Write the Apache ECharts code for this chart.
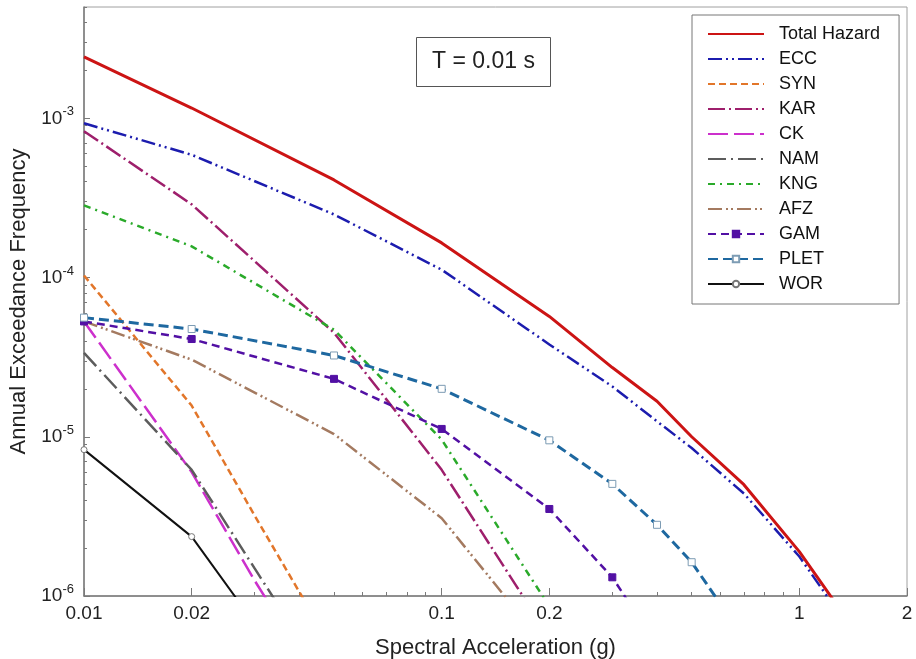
<!DOCTYPE html>
<html><head><meta charset="utf-8">
<script src="https://cdn.jsdelivr.net/npm/echarts@6/dist/echarts.min.js"></script>
<style>html,body{margin:0;padding:0;background:#fff}#c{width:916px;height:659px}</style>
</head><body><div id="c"></div>
<script>
// Spectral acceleration grid (g)
const accel = [0.01, 0.02, 0.03, 0.05, 0.1, 0.2, 0.3, 0.4, 0.5, 0.6, 0.7, 1.0, 1.5];
// Annual exceedance frequency per source (null = no point at that acceleration)
const totalHazard = [2.43e-3, 1.16e-3, null, 4.1e-4, 1.65e-4, 5.7e-5, 2.72e-5, 1.67e-5, 1.0e-5, null, 5.0e-6, 1.9e-6, 5.2e-7];
const ecc  = [9.3e-4, 5.9e-4, null, 2.49e-4, 1.12e-4, 3.8e-5, 2.07e-5, 1.25e-5, 8.5e-6, null, 4.4e-6, 1.77e-6, 4.8e-7];
const syn  = [1.03e-4, 1.57e-5, 3.2e-6, 4.5e-7];
const kar  = [8.3e-4, 2.88e-4, null, 4.5e-5, 6.2e-6, 5.5e-7];
const ck   = [5.3e-5, 6.0e-6, 1.25e-6, 2.0e-7];
const nam  = [3.36e-5, 6.2e-6, 1.49e-6, 2.5e-7];
const kng  = [2.84e-4, 1.57e-4, null, 4.7e-5, 9.6e-6, 8.6e-7];
const afz  = [5.3e-5, 3.05e-5, null, 1.04e-5, 3.08e-6, 4.5e-7];
const gam  = [5.3e-5, 4.11e-5, null, 2.31e-5, 1.12e-5, 3.52e-6, 1.31e-6, 4.9e-7];
const plet = [5.6e-5, 4.75e-5, null, 3.24e-5, 2.0e-5, 9.5e-6, 5.06e-6, 2.8e-6, 1.63e-6, 9.0e-7];
const wor  = [8.3e-6, 2.36e-6, 6.7e-7];

const seriesNames = ['Total Hazard','ECC','SYN','KAR','CK','NAM','KNG','AFZ','GAM','PLET','WOR'];
const seriesValues = [totalHazard, ecc, syn, kar, ck, nam, kng, afz, gam, plet, wor];

// Axis ticks and labels
const xLabelValues = [0.01, 0.02, 0.1, 0.2, 1, 2];
const xMinorTicks = [0.01,0.02,0.03,0.04,0.05,0.06,0.07,0.08,0.09,0.1,0.2,0.3,0.4,0.5,0.6,0.7,0.8,0.9,1,2];
const yLabelValues = [1e-6, 1e-5, 1e-4, 1e-3];
const yLabelExponents = ['-6', '-5', '-4', '-3'];
const yMinorTicks = [1e-6,2e-6,3e-6,4e-6,5e-6,6e-6,7e-6,8e-6,9e-6,1e-5,2e-5,3e-5,4e-5,5e-5,6e-5,7e-5,8e-5,9e-5,1e-4,2e-4,3e-4,4e-4,5e-4,6e-4,7e-4,8e-4,9e-4,1e-3,2e-3,3e-3,4e-3,5e-3];

const styles = [
  {color:'#cc1414', width:3, dash:'solid'},
  {color:'#1c1cae', width:2.5, dash:[14,4,2,4,2,4]},
  {color:'#e2762a', width:2.5, dash:[7,4]},
  {color:'#9e1f6c', width:2.5, dash:[17,4,2,4]},
  {color:'#cc30cc', width:2.5, dash:[20,6]},
  {color:'#5c5c5c', width:2.5, dash:[18,5,2,5]},
  {color:'#2aaa2a', width:2.5, dash:[7,5,2,5]},
  {color:'#a47a60', width:2.5, dash:[14,4,2,3,2,4]},
  {color:'#5210a4', width:2.5, dash:[8,5], symbol:'rect', size:7, fill:'#5210a4', border:'#5210a4'},
  {color:'#1e68a0', width:3, dash:[10,5], symbol:'rect', size:7, fill:'#ffffff', border:'#7d9cb4'},
  {color:'#111111', width:2, dash:'solid', symbol:'circle', size:6, fill:'#ffffff', border:'#777777'}
];

const FONT = 'Liberation Sans, Arial, sans-serif';

const series = seriesNames.map((name, i) => {
  const st = styles[i];
  const data = accel.map((x, k) => [x, seriesValues[i][k]]).filter(p => p[1] != null);
  return {
    name, type:'line', data, clip:true, z: i === 0 ? 10 : 9,
    showSymbol: !!st.symbol, symbol: st.symbol || 'none', symbolSize: st.size || 0,
    itemStyle: {color: st.fill || st.color, borderColor: st.border || st.color, borderWidth: 1},
    lineStyle: {color: st.color, width: st.width, type: st.dash},
    emphasis: {disabled:true}, animation:false
  };
});

const legendData = seriesNames.map((name, i) => (
  styles[i].symbol ? {name} : {name, itemStyle:{opacity:0}}
));

const chart = echarts.init(document.getElementById('c'), null, {renderer:'canvas'});
chart.setOption({
  backgroundColor:'#ffffff',
  animation:false,
  title: {
    text:'T = 0.01 s', left:416, top:37,
    padding:[13,16,14,16], borderColor:'#555', borderWidth:1,
    textStyle:{fontFamily:FONT, fontSize:23, fontWeight:'normal', color:'#222'}
  },
  legend: {
    data: legendData, orient:'vertical', left:692, top:15,
    itemWidth:56, itemHeight:8, itemGap:7,
    padding:[10,19,11,15], borderColor:'#777', borderWidth:1, backgroundColor:'#fff',
    textStyle:{fontFamily:FONT, fontSize:18, color:'#111', padding:[0,0,0,10]},
    selectedMode:false
  },
  grid: {left:84, right:9, top:7, bottom:63, outerBoundsMode:'none', containLabel:false,
    show:true, borderColor:'#a0a0a0', borderWidth:1, backgroundColor:'#fff'},
  xAxis: [{
    type:'log', min:0.01, max:2, logBase:10,
    name:'Spectral Acceleration (g)', nameLocation:'middle', nameGap:41,
    nameTextStyle:{fontFamily:FONT, fontSize:22, color:'#222'},
    axisLine:{show:true, lineStyle:{color:'#7a7a7a', width:1.5}},
    axisTick:{show:true, inside:true, length:4, customValues:xMinorTicks, lineStyle:{color:'#7a7a7a'}},
    axisLabel:{customValues:xLabelValues, fontFamily:FONT, fontSize:19, color:'#222', margin:8,
      formatter: v => String(xLabelValues.find(t => Math.abs(t - v) / t < 1e-6) ?? v)},
    splitLine:{show:false}, minorTick:{show:false}
  },{
    type:'log', min:0.01, max:2, logBase:10, position:'bottom',
    axisLine:{show:false},
    axisTick:{show:true, inside:true, length:8, customValues:xLabelValues, lineStyle:{color:'#7a7a7a'}},
    axisLabel:{show:false}, splitLine:{show:false}
  }],
  yAxis: [{
    type:'log', min:1e-6, max:5e-3, logBase:10,
    name:'Annual Exceedance Frequency', nameLocation:'middle', nameGap:51,
    nameTextStyle:{fontFamily:FONT, fontSize:22, color:'#222'},
    axisLine:{show:true, lineStyle:{color:'#7a7a7a', width:1.5}},
    axisTick:{show:true, inside:true, length:3, customValues:yMinorTicks, lineStyle:{color:'#7a7a7a'}},
    axisLabel:{customValues:yLabelValues, margin:10, color:'#222',
      formatter: v => {
        const i = yLabelValues.findIndex(t => Math.abs(t - v) / t < 1e-6);
        return '{b|10}{s|' + (i >= 0 ? yLabelExponents[i] : '') + '}';
      },
      rich:{
        b:{fontFamily:FONT, fontSize:19, color:'#222'},
        s:{fontFamily:FONT, fontSize:13, color:'#222', padding:[0,0,13,0]}
      }
    },
    splitLine:{show:false}
  },{
    type:'log', min:1e-6, max:5e-3, logBase:10, position:'left',
    axisLine:{show:false},
    axisTick:{show:true, inside:true, length:6, customValues:yLabelValues, lineStyle:{color:'#7a7a7a'}},
    axisLabel:{show:false}, splitLine:{show:false}
  }],
  series
});
</script>
</body></html>
